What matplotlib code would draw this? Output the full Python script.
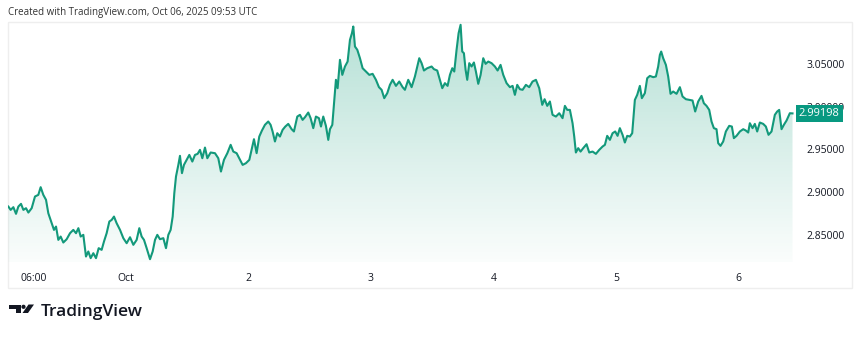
import matplotlib
matplotlib.use("Agg")
import matplotlib.pyplot as plt
from matplotlib.patches import Polygon, Circle, Rectangle
from matplotlib.transforms import blended_transform_factory
import numpy as np

# hours since 2025-09-30 00:00 UTC
hours = [
    0.95, 1.40, 1.93, 2.45, 2.91, 3.43, 3.89, 4.41, 4.87, 5.52, 6.17, 6.82, 7.28, 7.80, 8.33,
    8.78, 9.44, 9.89, 10.29, 10.74, 11.20, 11.72, 12.38, 13.03, 13.68, 14.21, 14.67, 15.12,
    15.64, 16.16, 16.62, 17.08, 17.60, 18.12, 18.65, 19.23, 19.69, 20.21, 20.74, 21.20, 21.65,
    22.17, 22.83, 23.48, 24.13, 24.79, 25.44, 26.09, 26.61, 27.07, 27.53, 28.05, 28.71, 29.23,
    29.69, 30.14, 30.66, 31.32, 31.84, 32.30, 32.75, 33.15, 33.47, 33.80, 34.26, 34.58, 34.97,
    35.36, 35.88, 36.41, 37.00, 37.52, 38.04, 38.50, 38.96, 39.48, 39.94, 40.59, 41.44, 42.09,
    42.61, 43.20, 43.86, 44.51, 45.03, 45.68, 46.34, 46.86, 47.51, 48.17, 48.62, 49.08, 49.60,
    50.12, 50.64, 51.23, 51.88, 52.34, 52.73, 53.19, 53.65, 54.17, 54.69, 55.22, 55.80, 56.46,
    56.91, 57.57, 58.09, 58.61, 59.07, 59.72, 60.18, 60.70, 61.22, 61.81, 62.21, 62.66, 63.18,
    63.64, 63.97, 64.43, 64.82, 65.14, 65.47, 65.93, 66.39, 66.91, 67.43, 67.89, 68.28, 68.54,
    68.87, 69.33, 69.85, 70.37, 71.02, 71.68, 72.33, 72.98, 73.57, 74.09, 74.61, 75.20, 75.72,
    76.25, 76.90, 77.55, 78.21, 78.66, 79.31, 79.97, 80.62, 81.47, 81.93, 82.39, 83.04, 83.89,
    84.34, 84.99, 85.52, 85.98, 86.50, 87.02, 87.48, 87.94, 88.33, 88.78, 89.18, 89.57, 89.89,
    90.22, 90.55, 90.87, 91.27, 91.72, 92.18, 92.57, 93.03, 93.49, 94.01, 94.47, 94.99, 95.64,
    96.29, 96.82, 97.40, 97.93, 98.58, 99.23, 99.76, 100.21, 100.67, 101.19, 101.72, 102.37,
    103.02, 103.67, 104.33, 104.98, 105.57, 106.03, 106.55, 107.07, 107.59, 108.25, 108.90,
    109.55, 110.01, 110.47, 110.99, 111.51, 111.84, 112.16, 112.62, 113.08, 113.60, 114.25,
    114.78, 115.43, 116.08, 116.74, 117.39, 117.85, 118.30, 118.83, 119.35, 119.87, 120.33,
    120.78, 121.31, 121.76, 122.22, 122.74, 123.20, 123.72, 124.18, 124.70, 125.09, 125.68,
    126.14, 126.66, 127.32, 127.84, 128.29, 128.62, 128.88, 129.27, 129.80, 130.25, 130.71,
    131.23, 131.89, 132.54, 133.06, 133.72, 134.37, 135.02, 135.54, 136.13, 136.78, 137.24,
    137.76, 138.29, 138.74, 139.20, 139.72, 140.05, 140.50, 141.03, 141.55, 142.21, 142.73,
    143.12, 143.64, 144.30, 144.95, 145.47, 145.93, 146.25, 146.78, 147.23, 147.69, 148.21,
    148.87, 149.39, 149.91, 150.50, 151.15, 151.61, 152.00, 152.46, 152.92, 153.44, 154.09,
    154.61,
]

prices = [
    2.8829, 2.8790, 2.8822, 2.8744, 2.8829, 2.8861, 2.8790, 2.8810, 2.8759, 2.8810, 2.8947,
    2.8966, 2.9056, 2.8966, 2.8908, 2.8751, 2.8634, 2.8556, 2.8595, 2.8439, 2.8478, 2.8408,
    2.8447, 2.8517, 2.8556, 2.8517, 2.8576, 2.8478, 2.8498, 2.8244, 2.8303, 2.8225, 2.8283,
    2.8225, 2.8342, 2.8322, 2.8420, 2.8517, 2.8654, 2.8673, 2.8712, 2.8634, 2.8556, 2.8459,
    2.8400, 2.8470, 2.8381, 2.8439, 2.8576, 2.8478, 2.8439, 2.8342, 2.8213, 2.8303, 2.8439,
    2.8498, 2.8447, 2.8459, 2.8342, 2.8498, 2.8556, 2.8712, 2.8986, 2.9181, 2.9317, 2.9423,
    2.9220, 2.9317, 2.9376, 2.9434, 2.9356, 2.9434, 2.9446, 2.9493, 2.9395, 2.9520, 2.9395,
    2.9462, 2.9454, 2.9395, 2.9239, 2.9376, 2.9454, 2.9552, 2.9473, 2.9454, 2.9376, 2.9317,
    2.9337, 2.9376, 2.9493, 2.9618, 2.9454, 2.9649, 2.9719, 2.9786, 2.9825, 2.9786, 2.9708,
    2.9591, 2.9688, 2.9649, 2.9727, 2.9766, 2.9797, 2.9735, 2.9708, 2.9883, 2.9903, 2.9844,
    2.9875, 2.9930, 2.9864, 2.9747, 2.9883, 2.9864, 2.9766, 2.9883, 2.9774, 2.9610, 2.9735,
    2.9786, 3.0078, 3.0313, 3.0215, 3.0547, 3.0371, 3.0469, 3.0527, 3.0781, 3.0859, 3.0937,
    3.0703, 3.0664, 3.0566, 3.0449, 3.0410, 3.0371, 3.0383, 3.0313, 3.0227, 3.0196, 3.0098,
    3.0157, 3.0254, 3.0313, 3.0242, 3.0293, 3.0227, 3.0196, 3.0313, 3.0227, 3.0352, 3.0566,
    3.0508, 3.0422, 3.0449, 3.0469, 3.0438, 3.0422, 3.0313, 3.0215, 3.0274, 3.0242, 3.0371,
    3.0449, 3.0410, 3.0664, 3.0859, 3.0957, 3.0644, 3.0625, 3.0430, 3.0313, 3.0508, 3.0469,
    3.0516, 3.0410, 3.0266, 3.0371, 3.0566, 3.0500, 3.0527, 3.0508, 3.0469, 3.0422, 3.0488,
    3.0371, 3.0274, 3.0227, 3.0242, 3.0137, 3.0254, 3.0203, 3.0196, 3.0254, 3.0227, 3.0293,
    3.0313, 3.0215, 3.0020, 3.0086, 3.0008, 3.0059, 2.9903, 2.9883, 2.9922, 2.9864, 3.0008,
    2.9961, 2.9961, 2.9805, 2.9649, 2.9462, 2.9513, 2.9473, 2.9513, 2.9559, 2.9462, 2.9473,
    2.9446, 2.9493, 2.9532, 2.9552, 2.9657, 2.9610, 2.9688, 2.9708, 2.9657, 2.9747, 2.9669,
    2.9579, 2.9657, 2.9649, 2.9688, 3.0078, 3.0137, 3.0242, 3.0098, 3.0157, 3.0332, 3.0359,
    3.0344, 3.0352, 3.0469, 3.0605, 3.0644, 3.0566, 3.0488, 3.0352, 3.0149, 3.0176, 3.0149,
    3.0227, 3.0118, 3.0086, 3.0078, 3.0071, 2.9942, 3.0059, 3.0125, 3.0039, 3.0008, 2.9961,
    2.9825, 2.9747, 2.9735, 2.9571, 2.9540, 2.9591, 2.9708, 2.9774, 2.9766, 2.9630, 2.9657,
    2.9708, 2.9735, 2.9719, 2.9696, 2.9805, 2.9747, 2.9797, 2.9708, 2.9813, 2.9797, 2.9766,
    2.9669, 2.9708, 2.9903, 2.9942, 2.9961, 2.9735, 2.9786, 2.9836, 2.9922, 2.99198,
]

tick_hours = [6, 24, 48, 72, 96, 120, 144]
tick_labels = ["06:00", "Oct", "2", "3", "4", "5", "6"]
price_ticks = [2.85, 2.90, 2.95, 3.00, 3.05]
last_price = prices[-1]

GREEN = "#13997b"
TEXT = "#131722"

plt.rcParams["font.family"] = ["Open Sans", "DejaVu Sans"]

W, H = 860, 337
fig = plt.figure(figsize=(W / 100, H / 100), dpi=100)
fig.patch.set_facecolor("white")

# pixel overlay for frame and logo
bg = fig.add_axes([0, 0, 1, 1], zorder=-5)
bg.set_xlim(0, W)
bg.set_ylim(H, 0)
bg.axis("off")
bg.add_patch(Rectangle((8, 22), 844, 266, fill=False, ec="#eeeeee", lw=1))

ax = fig.add_axes([8 / W, 1 - 262 / H, 787 / W, 240 / H])
ax.set_facecolor("none")
x = np.array(hours)
y = np.array(prices)
xlim = (0.88, 155.1)
ylim = (2.818, 3.099)

# gradient fill under the line
grad = np.linspace(0.32, 0.02, 256).reshape(-1, 1)
rgba = np.zeros((256, 1, 4))
rgba[..., 0], rgba[..., 1], rgba[..., 2] = 0.09, 0.62, 0.49
rgba[..., 3] = grad
im = ax.imshow(rgba, extent=[x[0], x[-1], ylim[0], ylim[1]],
               aspect="auto", origin="upper", zorder=1)
poly = Polygon(np.vstack([np.column_stack([x, y]),
                          [[x[-1], ylim[0]], [x[0], ylim[0]]]]),
               closed=True, transform=ax.transData, fc="none", ec="none")
ax.add_patch(poly)
im.set_clip_path(poly)
ax.set_xlim(*xlim)
ax.set_ylim(*ylim)

ax.plot(x, y, color=GREEN, lw=1.5, zorder=3, solid_joinstyle="round")

for s in ax.spines.values():
    s.set_visible(False)
ax.yaxis.tick_right()
ax.set_yticks(price_ticks)
ax.set_yticklabels([f"{p:.5f}" for p in price_ticks])
ax.set_xticks(tick_hours)
ax.set_xticklabels(tick_labels)
ax.tick_params(axis="y", length=0, pad=8, labelsize=7.5, labelcolor=TEXT)
ax.tick_params(axis="x", length=0, pad=8, labelsize=7.5, labelcolor=TEXT)

# last price tag, drawn over the 3.00000 label as in the chart
tr = blended_transform_factory(ax.transAxes, ax.transData)
ax.text(1.005, last_price, f"{last_price:.5f}", transform=tr, ha="left", va="center",
        fontsize=8, color="white", zorder=10, clip_on=False,
        bbox=dict(boxstyle="square,pad=0.3", fc="#089981", ec="none"))

fig.text(8 / W, 1 - 12 / H, "Created with TradingView.com, Oct 06, 2025 09:53 UTC",
         fontsize=7, color="#333333", va="center", ha="left")

# logo mark
bg.add_patch(Polygon([[9, 304.5], [20.5, 304.5], [20.5, 313], [15.5, 313], [15.5, 308.5], [9, 308.5]],
                     closed=True, fc="#131722", ec="none"))
bg.add_patch(Circle((23.5, 306.8), 2.1, fc="#131722", ec="none"))
bg.add_patch(Polygon([[22.5, 313], [28, 313], [34, 304.5], [28.5, 304.5]],
                     closed=True, fc="#131722", ec="none"))
fig.text(41 / W, 1 - 312 / H, "TradingView", fontsize=12.5, fontweight="semibold",
         color="#131722", va="center", ha="left")

fig.savefig("out.png", dpi=100, facecolor="white")
